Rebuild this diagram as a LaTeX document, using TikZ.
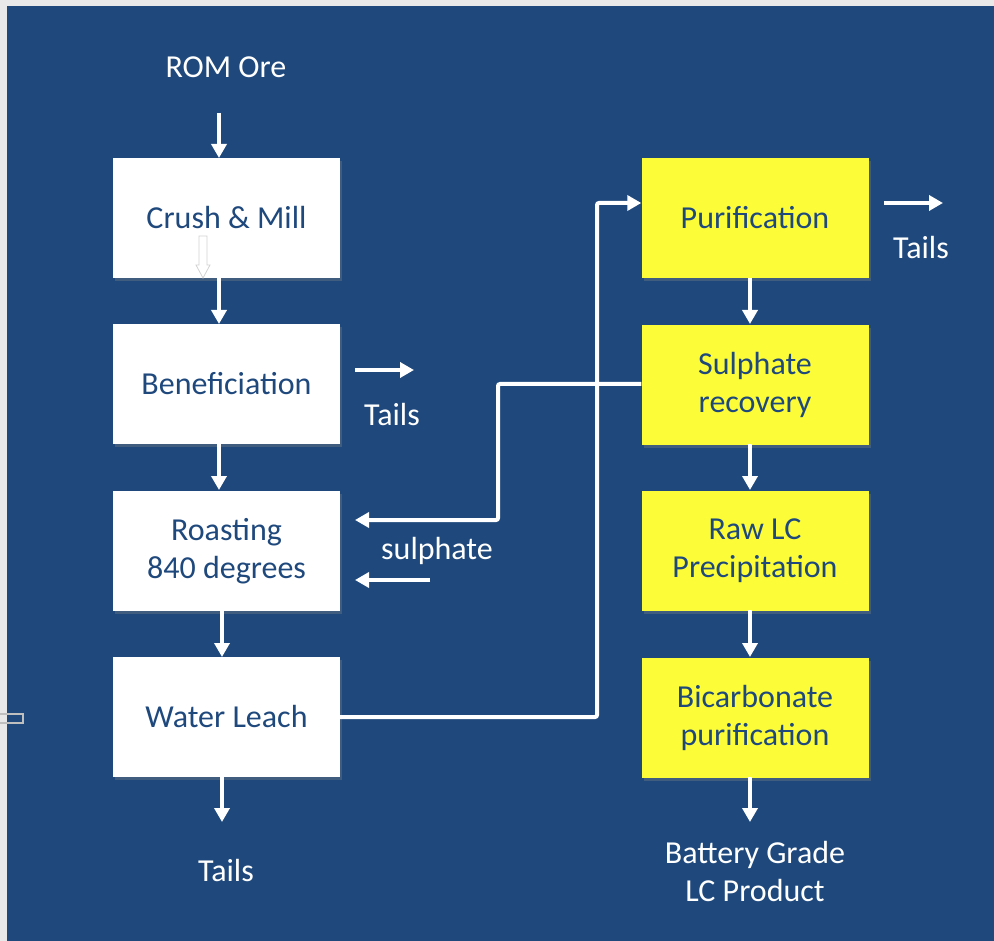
\documentclass[tikz,border=0pt]{standalone}
\usepackage{fontspec}
\setmainfont{Carlito}
\usetikzlibrary{arrows.meta,shadows}
\definecolor{bgblue}{HTML}{1F497D}
\definecolor{txtblue}{HTML}{1F497D}
\definecolor{boxyellow}{HTML}{FCFC38}
\definecolor{stripgray}{HTML}{E9E9E9}
\tikzset{
  box/.style={draw=none, minimum width=227pt, minimum height=120pt, inner sep=0pt,
    align=center, text=txtblue, font=\fontsize{32}{38}\selectfont,
    drop shadow={opacity=0.35, shadow xshift=2pt, shadow yshift=-3pt}},
  wbox/.style={box, fill=white},
  ybox/.style={box, fill=boxyellow},
  lbl/.style={text=white, align=center, font=\fontsize{32}{38}\selectfont, inner sep=0pt},
  flow/.style={draw=white, line width=4pt, -{Triangle[length=14pt,width=15pt]}},
  line/.style={draw=white, line width=4pt, rounded corners=2pt},
}
\begin{document}
\begin{tikzpicture}[x=1pt,y=-1pt]
\useasboundingbox (0,0) rectangle (994,941);
\fill[stripgray] (0,0) rectangle (994,941);
\fill[bgblue] (7,6) rectangle (994,941);
\draw[gray!50, line width=1.5pt] (-2,714) rectangle (23,723);
% left column
\node[lbl] (rom) at (226,67) {ROM Ore};
\coordinate (romA) at (219,113);
\node[wbox] (crush) at (226.5,218) {Crush \& Mill};
\node[wbox] (ben) at (226.5,384) {Beneficiation};
\node[wbox] (roast) at (226.5,551) {Roasting\\840 degrees};
\node[wbox] (water) at (226.5,717) {Water Leach};
\node[lbl] (tailsA) at (226,871) {Tails};
\coordinate (tailsAtop) at (222,822);
% right column
\node[ybox] (pur) at (755,218) {Purification};
\node[ybox] (sul) at (755,385) {Sulphate\\recovery};
\node[ybox] (raw) at (755,551) {Raw LC\\Precipitation};
\node[ybox] (bic) at (755,718) {Bicarbonate\\purification};
\node[lbl] (prod) at (755,872) {Battery Grade\\LC Product};
\coordinate (prodtop) at (750,822);
% side labels
\node[lbl] (tailsB) at (392,415) {Tails};
\node[lbl] (tailsC) at (921,248) {Tails};
\node[lbl] (sulph) at (437,551) {sulphate};
\coordinate (tbS) at (355,370); \coordinate (tbE) at (414,370);
\coordinate (tcS) at (884,203); \coordinate (tcE) at (943,203);
\coordinate (s2S) at (430,580); \coordinate (s2E) at (355,580);
% vertical arrows left
\draw[flow] (romA) -- (219,158);
\draw[flow] (219,278) -- (219,324);
\draw[flow] (219,444) -- (219,490);
\draw[flow] (222,610) -- (222,657);
\draw[flow] (222,777) -- (tailsAtop);
% faint hollow arrow in crush box
\filldraw[fill=white, draw=gray!35, line width=0.8pt] (199,236) -- (207,236) -- (207,265) -- (210,265) -- (203,278) -- (196,265) -- (199,265) -- cycle;
% vertical arrows right
\draw[flow] (750,278) -- (750,324);
\draw[flow] (750,444) -- (750,490);
\draw[flow] (750,610) -- (750,657);
\draw[flow] (750,777) -- (prodtop);
% side arrows
\draw[flow] (tbS) -- (tbE);
\draw[flow] (tcS) -- (tcE);
\draw[flow] (s2S) -- (s2E);
% sulphate recycle
\draw[line, -{Triangle[length=14pt,width=15pt]}] (sul.west |- 0,384) -- (498,384) -- (498,520) -- (355,520);
% water leach to purification
\draw[line, -{Triangle[length=14pt,width=15pt]}] (water.east) -- (597,717) -- (597,203) -- (pur.west |- 0,203);
\end{tikzpicture}
\end{document}
